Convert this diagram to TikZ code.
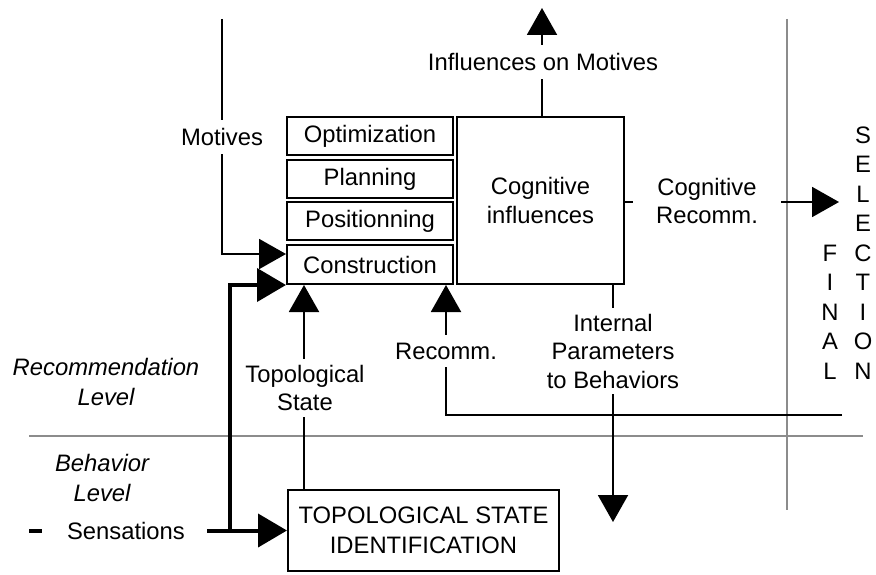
\documentclass[tikz,border=0pt]{standalone}
\usepackage{fontspec}
\setmainfont{Liberation Sans}
\usetikzlibrary{arrows.meta}
\definecolor{rulegray}{HTML}{8C8C8C}
\begin{document}
\begin{tikzpicture}[x=1pt,y=-1pt,
  font=\fontsize{23.8}{28.5}\selectfont,
  box/.style={draw, line width=2pt, inner sep=0pt, align=center},
  lbl/.style={fill=white, inner sep=5pt, align=center},
  plain/.style={inner sep=0pt, align=center},
  conn/.style={line width=2pt},
  arr/.style={line width=2pt, -{Triangle[length=27pt,width=30pt]}},
  thickarr/.style={line width=4pt, -{Triangle[length=29pt,width=33pt]}},
  grayline/.style={line width=2pt, draw=rulegray}]
\useasboundingbox (0,0) rectangle (876,575);

% gray separator lines
\coordinate (hl1) at (29,436);
\coordinate (hl2) at (863,436);
\coordinate (vl1) at (787,19);
\coordinate (vl2) at (787,510);
\draw[grayline] (hl1) -- (hl2);
\draw[grayline] (vl1) -- (vl2);

% boxes
\node[box, minimum width=166pt, minimum height=38.5pt] (opt) at (370,136) {Optimization};
\node[box, minimum width=166pt, minimum height=38.5pt] (plan) at (370,179) {Planning};
\node[box, minimum width=166pt, minimum height=38.5pt] (pos) at (370,221) {Positionning};
\node[box, minimum width=166pt, minimum height=39pt] (cons) at (370,264.5) {Construction};
\node[box, minimum width=167pt, minimum height=167pt] (cog) at (540.5,200.5) {Cognitive\\influences};
\node[box, minimum width=271pt, minimum height=81pt, font=\fontsize{23.8}{30}\selectfont] (topo) at (423.5,530.5) {TOPOLOGICAL STATE\\IDENTIFICATION};

% coordinates
\coordinate (mtop) at (222,19);
\coordinate (tsx) at (304,0);
\coordinate (rcx) at (446,0);
\coordinate (rcend) at (842,415);
\coordinate (ipx) at (613,0);
\coordinate (ipend) at (613,522);
\coordinate (imx) at (542,0);
\coordinate (imend) at (542,8);
\coordinate (crstart) at (625,202);
\coordinate (crend) at (839,202);
\coordinate (sstart) at (207,530.5);
\coordinate (branch) at (230,530.5);
\coordinate (dash1) at (29,530.5);
\coordinate (dash2) at (42,530.5);

% connectors
\draw[arr] (mtop) |- ([yshift=10.5pt]cons.west);
\draw[arr] (topo.north -| tsx) -- (cons.south -| tsx);
\draw[arr] (rcend) -| (cons.south -| rcx);
\draw[arr] (cog.south -| ipx) -- (ipend);
\draw[arr] (cog.north -| imx) -- (imend);
\draw[arr] (crstart) -- (crend);
\draw[thickarr] (sstart) -- (topo.west);
\draw[thickarr] (branch) |- (cons.south west);
\draw[line width=4pt] (dash1) -- (dash2);

% labels on connectors
\node[lbl, inner ysep=8pt] (lmot) at (222,137) {Motives};
\node[lbl, inner ysep=6pt] (ltop) at (305,388) {Topological\\State};
\node[lbl, inner ysep=8pt] (lrec) at (446,351) {Recomm.};
\node[lbl, inner ysep=6pt] (lint) at (613,351) {Internal\\Parameters\\to Behaviors};
\node[lbl, inner ysep=8pt] (linf) at (543,62) {Influences on Motives};
\node[lbl, inner xsep=23pt, inner ysep=4pt] (lcr) at (707,201) {Cognitive\\Recomm.};

% free texts
\node[plain] (sens) at (126,531) {Sensations};
\node[plain, font=\fontsize{23.8}{29.5}\selectfont\itshape] (rlev) at (106,382) {Recommendation\\Level};
\node[plain, font=\fontsize{23.8}{29.5}\selectfont\itshape] (blev) at (102,478) {Behavior\\Level};
\node[plain, font=\fontsize{23.8}{29.5}\selectfont] (sel) at (863,253) {S\\E\\L\\E\\C\\T\\I\\O\\N};
\node[plain, font=\fontsize{23.8}{29.5}\selectfont] (fin) at (830,312) {F\\I\\N\\A\\L};
\end{tikzpicture}
\end{document}
